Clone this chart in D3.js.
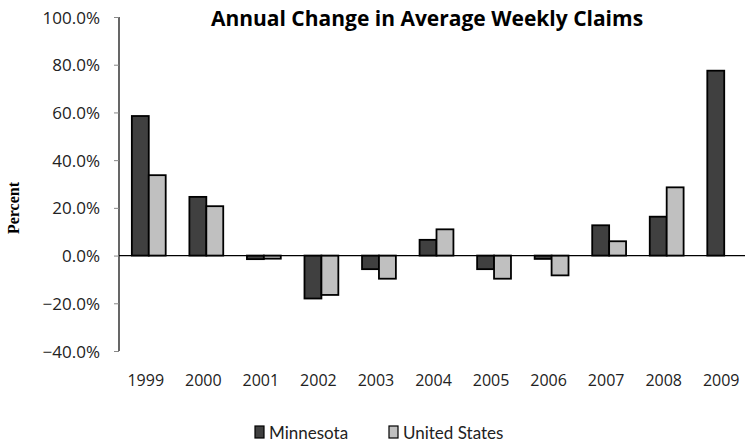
<!DOCTYPE html>
<html>
<head>
<meta charset="utf-8">
<script src="https://cdn.jsdelivr.net/npm/d3@7"></script>
<style>
body{margin:0;background:#fff;}
svg{display:block;}
</style>
</head>
<body>
<svg id="chart" width="745" height="444"></svg>
<script>
// data
var years = ["1999","2000","2001","2002","2003","2004","2005","2006","2007","2008","2009"];
var seriesNames = ["Minnesota","United States"];
var minnesota = [58.5, 24.6, -1.5, -18.0, -5.7, 6.6, -5.7, -1.4, 12.7, 16.3, 77.5];
var unitedStates = [33.7, 20.7, -1.3, -16.5, -9.7, 11.0, -9.7, -8.3, 6.0, 28.6, null];
var yTicks = [-40, -20, 0, 20, 40, 60, 80, 100];
var colors = ["#404040", "#c0c0c0"];

var svg = d3.select("#chart");

var x0 = d3.scaleBand().domain(years).range([120, 753]).padding(0);
var x1 = d3.scaleBand().domain(seriesNames).range([0, x0.bandwidth()]).paddingInner(0).paddingOuter(0.7);
var y = d3.scaleLinear().domain([-40, 100]).range([351, 17]);

var rows = years.map(function(yr, i){
	return {year: yr, values: [
		{name: seriesNames[0], v: minnesota[i], c: colors[0]},
		{name: seriesNames[1], v: unitedStates[i], c: colors[1]}
	]};
});

// title
svg.append("text")
	.attr("x", 427).attr("y", 26)
	.attr("text-anchor", "middle")
	.attr("font-family", "'Open Sans', sans-serif")
	.attr("font-weight", "bold")
	.attr("font-size", 21)
	.text("Annual Change in Average Weekly Claims");

// y axis label
svg.append("text")
	.attr("transform", "translate(19,208) rotate(-90)")
	.attr("text-anchor", "middle")
	.attr("font-family", "'Liberation Serif', serif")
	.attr("font-weight", "bold")
	.attr("font-size", 16)
	.text("Percent");

// y axis
var yAxis = svg.append("g")
	.attr("transform", "translate(119,0)")
	.call(d3.axisLeft(y).tickValues(yTicks).tickSize(5).tickPadding(14)
		.tickFormat(function(d){ return d3.format(".1f")(d) + "%"; }));
yAxis.select(".domain").attr("stroke", "#000").attr("stroke-width", 1.2).attr("d", "M0," + y(-40) + "V" + y(100));
yAxis.selectAll(".tick line").attr("stroke", "#888");
yAxis.selectAll(".tick text")
	.attr("font-family", "'Open Sans', sans-serif")
	.attr("font-size", 17).attr("fill", "#222").attr("dy", "0.36em");

// bars
var groups = svg.selectAll("g.year")
	.data(rows)
	.enter().append("g")
	.attr("class", "year")
	.attr("transform", function(d){ return "translate(" + x0(d.year) + ",0)"; });

groups.selectAll("rect")
	.data(function(d){ return d.values.filter(function(s){ return s.v !== null; }); })
	.enter().append("rect")
	.attr("x", function(d){ return x1(d.name); })
	.attr("width", x1.bandwidth())
	.attr("y", function(d){ return y(Math.max(0, d.v)); })
	.attr("height", function(d){ return Math.abs(y(d.v) - y(0)); })
	.attr("fill", function(d){ return d.c; })
	.attr("stroke", "#000")
	.attr("stroke-width", 1.8);

// zero line
svg.append("line")
	.attr("x1", 119).attr("x2", 745)
	.attr("y1", y(0)).attr("y2", y(0))
	.attr("stroke", "#000").attr("stroke-width", 1.2);

// year labels
svg.selectAll("text.yr")
	.data(years)
	.enter().append("text")
	.attr("class", "yr")
	.attr("x", function(d){ return x0(d) + x0.bandwidth()/2 - 3; })
	.attr("y", 386)
	.attr("text-anchor", "middle")
	.attr("font-family", "'Open Sans', sans-serif")
	.attr("font-size", 16)
	.attr("fill", "#222")
	.text(function(d){ return d; });

// legend
var legendX = [255, 389];
var legend = svg.selectAll("g.legend")
	.data(seriesNames)
	.enter().append("g")
	.attr("class", "legend")
	.attr("transform", function(d, i){ return "translate(" + legendX[i] + ",426)"; });
legend.append("rect")
	.attr("width", 9).attr("height", 12)
	.attr("fill", function(d, i){ return colors[i]; })
	.attr("stroke", "#000").attr("stroke-width", 1.2);
legend.append("text")
	.attr("x", 14).attr("y", 13)
	.attr("font-family", "Lato, 'Open Sans', sans-serif")
	.attr("font-size", 17)
	.attr("fill", "#222")
	.text(function(d){ return d; });
</script>
</body>
</html>
